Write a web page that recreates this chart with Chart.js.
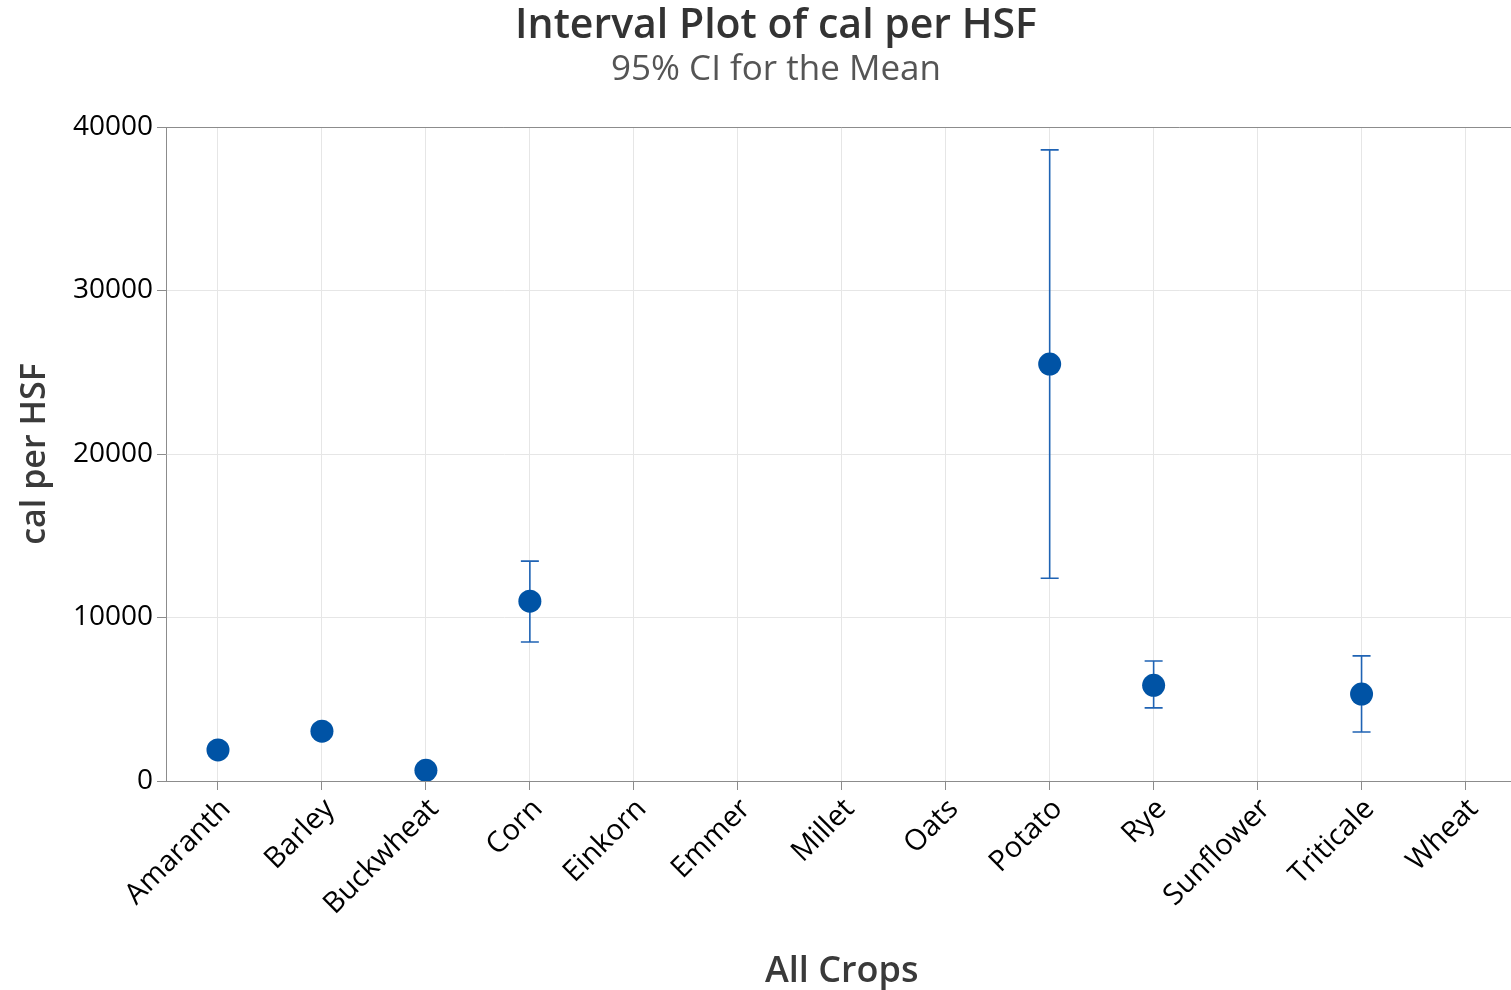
<!DOCTYPE html>
<html>
<head>
<meta charset="utf-8">
<script src="https://cdn.jsdelivr.net/npm/chart.js@4.4.0/dist/chart.umd.min.js"></script>
<style>
html,body{margin:0;padding:0;overflow:hidden;background:#fff;width:1511px;height:990px;}
#wrap{width:1529px;height:990px;}
</style>
</head>
<body>
<div id="wrap"><canvas id="c" width="1529" height="990"></canvas></div>
<script>
const categories = ["Amaranth","Barley","Buckwheat","Corn","Einkorn","Emmer","Millet","Oats","Potato","Rye","Sunflower","Triticale","Wheat"];
const means = [1900, 3050, 650, 11000, null, null, null, null, 25500, 5850, null, 5320, null];
const lowerCI = [null, null, null, 8500, null, null, null, null, 12400, 4470, null, 3000, null];
const upperCI = [null, null, null, 13450, null, null, null, null, 38600, 7340, null, 7650, null];
const yTicks = [0, 10000, 20000, 30000, 40000];

const FONT = "'Open Sans', 'Noto Sans', sans-serif";

const errorBars = {
  id: 'errorBars',
  beforeDatasetsDraw(chart) {
    const ctx = chart.ctx, xs = chart.scales.x, ys = chart.scales.y;
    ctx.save();
    ctx.strokeStyle = '#1f63b4';
    ctx.lineWidth = 1.6;
    for (let i = 0; i < categories.length; i++) {
      if (lowerCI[i] == null || upperCI[i] == null) continue;
      const x = xs.getPixelForValue(i);
      const yl = ys.getPixelForValue(lowerCI[i]);
      const yu = ys.getPixelForValue(upperCI[i]);
      ctx.beginPath();
      ctx.moveTo(x, yu); ctx.lineTo(x, yl);
      ctx.moveTo(x - 9, yu); ctx.lineTo(x + 9, yu);
      ctx.moveTo(x - 9, yl); ctx.lineTo(x + 9, yl);
      ctx.stroke();
    }
    ctx.restore();
  },
  afterDraw(chart) {
    const ctx = chart.ctx, a = chart.chartArea;
    ctx.save();
    ctx.strokeStyle = '#8c8c8c';
    ctx.lineWidth = 1;
    ctx.beginPath();
    ctx.moveTo(a.left, Math.round(a.top) + 0.5);
    ctx.lineTo(a.right, Math.round(a.top) + 0.5);
    ctx.stroke();
    ctx.restore();
  }
};

new Chart(document.getElementById('c'), {
  type: 'line',
  data: {
    labels: categories,
    datasets: [{
      data: means,
      showLine: false,
      pointRadius: 11.5,
      pointHoverRadius: 11.5,
      pointBackgroundColor: '#0053a5',
      pointBorderColor: '#0053a5',
      pointBorderWidth: 0
    }]
  },
  plugins: [errorBars],
  options: {
    responsive: false,
    animation: false,
    layout: { padding: { left: 23, right: 0, top: 0, bottom: 0 } },
    plugins: {
      legend: { display: false },
      tooltip: { enabled: false },
      title: {
        display: true,
        text: 'Interval Plot of cal per HSF',
        color: '#333333',
        font: { family: FONT, size: 41, weight: '600', lineHeight: 1.0 },
        padding: { top: 6, bottom: 6 }
      },
      subtitle: {
        display: true,
        text: '95% CI for the Mean',
        color: '#555555',
        font: { family: FONT, size: 35, weight: 'normal', lineHeight: 1.0 },
        padding: { top: 0, bottom: 39 }
      }
    },
    scales: {
      x: {
        type: 'category',
        offset: true,
        grid: { offset: false, color: '#e6e6e6', tickColor: '#8c8c8c', tickLength: 9, drawTicks: true },
        border: { display: true, color: '#8c8c8c', width: 1 },
        ticks: {
          color: '#000000',
          font: { family: FONT, size: 29, weight: '500' },
          maxRotation: 45, minRotation: 45,
          autoSkip: false,
          labelOffset: 8,
          padding: 2
        },
        title: {
          display: true,
          text: 'All Crops',
          color: '#3a3a3a',
          font: { family: FONT, size: 36, weight: '600', lineHeight: 1.0 },
          padding: { top: 0, bottom: 0 }
        },
        afterFit(scale) { scale.height = 209; }
      },
      y: {
        min: 0, max: 40000,
        afterBuildTicks(scale) { scale.ticks = yTicks.map(v => ({ value: v })); },
        grid: { color: '#e6e6e6', tickColor: '#8c8c8c', tickLength: 9 },
        border: { display: true, color: '#8c8c8c', width: 1 },
        ticks: {
          color: '#000000',
          font: { family: FONT, size: 28, weight: '500' },
          padding: 4,
          callback: v => String(v)
        },
        title: {
          display: true,
          text: 'cal per HSF',
          color: '#3a3a3a',
          font: { family: FONT, size: 34, weight: '600', lineHeight: 0.7 },
          padding: { top: 0, bottom: 0 }
        },
        afterFit(scale) { scale.width = 143; }
      }
    }
  }
});
</script>
</body>
</html>
